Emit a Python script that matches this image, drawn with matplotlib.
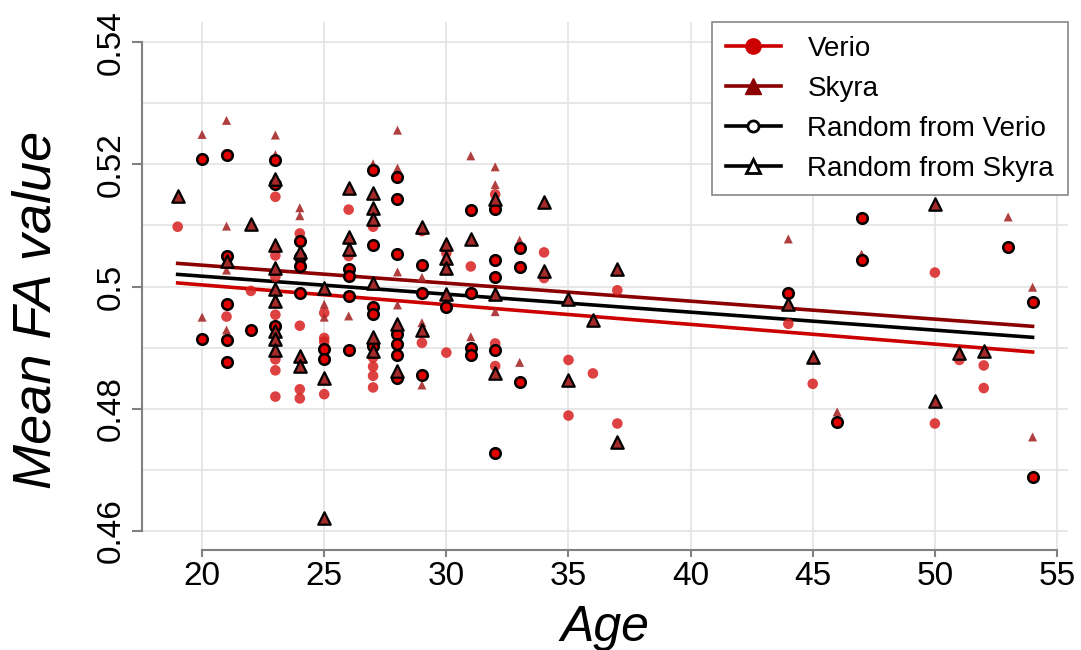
import numpy as np
import matplotlib.pyplot as plt
from matplotlib.lines import Line2D
from matplotlib.ticker import MultipleLocator

plt.rcParams['font.family'] = ['Liberation Sans', 'DejaVu Sans']

# Verio scans that were not picked for the random set
verio_age = [19, 21, 22,
             23, 23, 23, 23, 23, 23, 23,
             24, 24, 24, 24,
             25, 25, 25, 25,
             26, 26,
             27, 27, 27, 27, 27,
             29, 29, 30, 30, 31,
             32, 32, 32, 34, 34, 35, 35, 36, 37, 37,
             44, 45, 50, 50, 51, 52, 52]
verio_fa = [0.5098, 0.4951, 0.4993,
            0.5147, 0.5051, 0.5016, 0.4954, 0.4881, 0.4863, 0.4820,
            0.5087, 0.4936, 0.4832, 0.4817,
            0.4957, 0.4916, 0.4910, 0.4824,
            0.5126, 0.5050,
            0.5098, 0.4884, 0.4869, 0.4854, 0.4835,
            0.5091, 0.4908, 0.5055, 0.4892, 0.5033,
            0.5151, 0.4907, 0.4870, 0.5056, 0.5014, 0.4880, 0.4789, 0.4858, 0.4994, 0.4776,
            0.4939, 0.4841, 0.5023, 0.4776, 0.4880, 0.4871, 0.4834]

# Skyra scans that were not picked for the random set
skyra_age = [20, 20, 21, 21, 21, 21, 23, 23, 24, 24, 25, 25, 26, 27,
             28, 28, 28, 28, 29, 29, 29, 31, 31, 32, 32, 32, 33, 33,
             44, 46, 47, 53, 54, 54]
skyra_fa = [0.5249, 0.4950, 0.5272, 0.5099, 0.5027, 0.4929, 0.5248, 0.5216,
            0.5129, 0.5116, 0.4971, 0.4950, 0.4952, 0.5201,
            0.5256, 0.5194, 0.5024, 0.4970, 0.5015, 0.4941, 0.4839, 0.5214, 0.4918,
            0.5196, 0.5167, 0.4959, 0.5076, 0.4876,
            0.5078, 0.4795, 0.5053, 0.5114, 0.4999, 0.4754]

# random selection: scans taken from Verio
rv_age = [20, 20, 21, 21, 21, 21, 21, 22, 23, 23, 23,
          24, 24, 24, 24, 25, 25, 26, 26, 26, 26,
          27, 27, 27, 27, 27, 28, 28, 28, 28, 28, 28, 28,
          29, 29, 29, 30, 31, 31, 31, 31, 32, 32, 32, 32, 32,
          33, 33, 33, 44, 46, 47, 47, 53, 54, 54]
rv_fa = [0.5208, 0.4914, 0.5216, 0.5050, 0.4971, 0.4913, 0.4877, 0.4929, 0.5207, 0.5168, 0.4936,
         0.5075, 0.5048, 0.5033, 0.4989, 0.4898, 0.4881, 0.5029, 0.5017, 0.4985, 0.4896,
         0.5190, 0.5068, 0.4966, 0.4955, 0.4903, 0.5179, 0.5144, 0.5054, 0.4923, 0.4906, 0.4888, 0.4851,
         0.5035, 0.4990, 0.4856, 0.4967, 0.5125, 0.4990, 0.4900, 0.4888, 0.5127, 0.5044, 0.5015, 0.4896, 0.4728,
         0.5063, 0.5032, 0.4844, 0.4990, 0.4779, 0.5113, 0.5044, 0.5065, 0.4975, 0.4688]

# random selection: scans taken from Skyra
rs_age = [19, 21, 22, 23, 23, 23, 23, 23, 23, 23, 23,
          24, 24, 24, 25, 25, 25, 26, 26, 26,
          27, 27, 27, 27, 27, 27, 28, 28, 29, 29,
          30, 30, 30, 30, 31, 32, 32, 32, 34, 34, 35, 35, 36, 37, 37,
          44, 45, 50, 50, 51, 52]
rs_fa = [0.5149, 0.5042, 0.5102, 0.5176, 0.5068, 0.5031, 0.4996, 0.4976, 0.4928, 0.4914, 0.4896,
         0.5056, 0.4887, 0.4870, 0.4998, 0.4850, 0.4621, 0.5161, 0.5081, 0.5061,
         0.5154, 0.5129, 0.5110, 0.5006, 0.4918, 0.4895, 0.4939, 0.4862, 0.5098, 0.4929,
         0.5069, 0.5047, 0.5031, 0.4988, 0.5078, 0.5144, 0.4988, 0.4859, 0.5139, 0.5026, 0.4979, 0.4847,
         0.4945, 0.5028, 0.4745,
         0.4972, 0.4884, 0.5135, 0.4812, 0.4891, 0.4894]

# fitted lines (end points)
fit_age = [19, 54]
verio_fit = [0.5006, 0.4893]
skyra_fit = [0.5038, 0.4935]
random_fit = [0.5020, 0.4917]

ytick_vals = [0.46, 0.48, 0.5, 0.52, 0.54]
ytick_labels = ['0.46', '0.48', '0.5', '0.52', '0.54']
xtick_vals = [20, 25, 30, 35, 40, 45, 50, 55]

fig, ax = plt.subplots(figsize=(10.81, 6.5), dpi=100)
fig.subplots_adjust(left=142/1081, right=1068/1081, top=1-22/650, bottom=1-550/650)

ax.plot(fit_age, verio_fit, color='#cc0000', lw=2.6, zorder=2)
ax.plot(fit_age, skyra_fit, color='#8b0000', lw=2.6, zorder=2)
ax.plot(fit_age, random_fit, color='black', lw=2.6, zorder=2)

# full scanner sets (random picks sit on top of their own scanner point)
ax.scatter(verio_age + rv_age, verio_fa + rv_fa, s=58, color='#d82020', alpha=0.85,
           edgecolors='none', zorder=3)
ax.scatter(skyra_age + rs_age, skyra_fa + rs_fa, marker='^', s=42, color='#a82a2a',
           alpha=0.9, edgecolors='none', zorder=3)
ax.scatter(rv_age, rv_fa, s=58, color='#e00000', edgecolors='black', linewidths=1.8, zorder=4)
ax.scatter(rs_age, rs_fa, marker='^', s=80, color='#a52a2a', edgecolors='black',
           linewidths=1.6, zorder=4)

ax.set_xlim(17.54, 55.45)
ax.set_ylim(0.4569, 0.5433)
ax.set_xticks(xtick_vals)
ax.set_yticks(ytick_vals)
ax.set_yticklabels(ytick_labels, rotation=90, va='center')
ax.yaxis.set_minor_locator(MultipleLocator(0.01))
ax.grid(axis='y', which='both', color='#e3e3e3', lw=1.2)
ax.grid(axis='x', which='major', color='#e3e3e3', lw=1.2)
ax.set_axisbelow(True)

for side in ['top', 'right']:
    ax.spines[side].set_visible(False)
ax.spines['left'].set_bounds(0.46, 0.54)
ax.spines['bottom'].set_bounds(20, 55)
for side in ['left', 'bottom']:
    ax.spines[side].set_color('#808080')
    ax.spines[side].set_linewidth(1.5)
ax.tick_params(axis='y', which='major', length=7, width=1.5, color='#808080',
               labelsize=24, pad=4)
ax.tick_params(axis='x', which='major', length=5, width=1.5, color='#808080',
               labelsize=24, pad=3)
ax.tick_params(which='minor', length=0)

ax.set_xlabel('Age', fontsize=36, style='italic', labelpad=9)
ax.set_ylabel('Mean FA value', fontsize=39, style='italic')
ax.yaxis.set_label_coords(-0.087, 0.455)

handles = [
    Line2D([], [], color='#cc0000', lw=2.6, marker='o', ms=11, mfc='#cc0000', mec='#cc0000'),
    Line2D([], [], color='#8b0000', lw=2.6, marker='^', ms=11, mfc='#8b0000', mec='#8b0000'),
    Line2D([], [], color='black', lw=2.6, marker='o', ms=8, mfc='white', mec='black', mew=2),
    Line2D([], [], color='black', lw=2.6, marker='^', ms=10, mfc='white', mec='black', mew=2),
]
labels = ['Verio', 'Skyra', 'Random from Verio', 'Random from Skyra']
leg = ax.legend(handles, labels, loc='upper right', bbox_to_anchor=(1, 1), borderaxespad=0,
                fontsize=20, fancybox=False, edgecolor='#888888', framealpha=1,
                handlelength=2.0, handletextpad=0.95, labelspacing=0.5, borderpad=0.5)
leg.get_frame().set_linewidth(1.2)

fig.savefig('out.png', dpi=100)
